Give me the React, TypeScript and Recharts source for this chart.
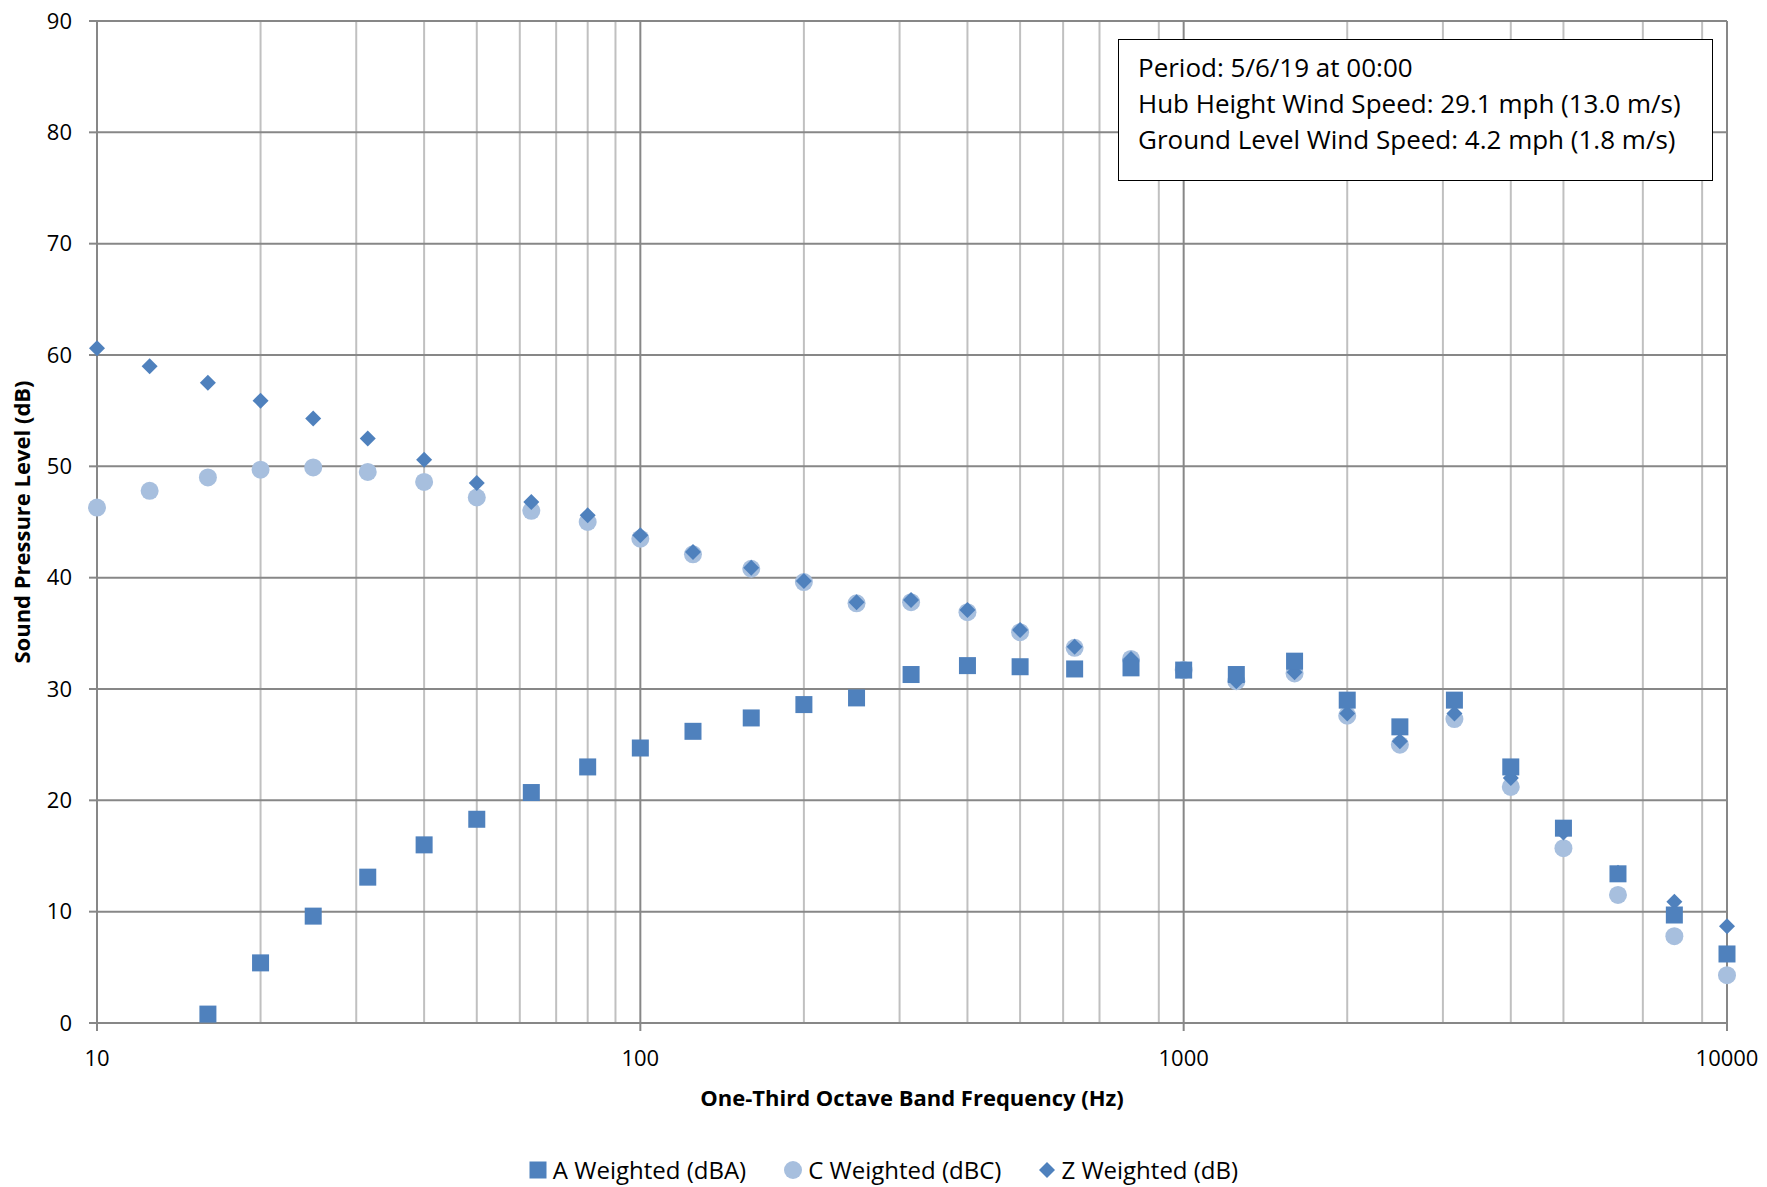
import React from 'react';
import { ScatterChart, Scatter, XAxis, YAxis, CartesianGrid, Legend, Label } from 'recharts';

const frequencies = [10, 12.5, 16, 20, 25, 31.5, 40, 50, 63, 80, 100, 125, 160, 200, 250, 315, 400, 500, 630, 800, 1000, 1250, 1600, 2000, 2500, 3150, 4000, 5000, 6300, 8000, 10000];
const aWeighted = [null, null, 0.8, 5.4, 9.6, 13.1, 16.0, 18.3, 20.7, 23.0, 24.7, 26.2, 27.4, 28.6, 29.2, 31.3, 32.1, 32.0, 31.8, 31.9, 31.7, 31.3, 32.5, 29.0, 26.6, 29.0, 23.0, 17.5, 13.4, 9.7, 6.2];
const cWeighted = [46.3, 47.8, 49.0, 49.7, 49.9, 49.5, 48.6, 47.2, 46.0, 45.0, 43.5, 42.1, 40.8, 39.6, 37.7, 37.8, 36.9, 35.1, 33.7, 32.7, 31.7, 30.7, 31.4, 27.6, 25.0, 27.3, 21.2, 15.7, 11.5, 7.8, 4.3];
const zWeighted = [60.6, 59.0, 57.5, 55.9, 54.3, 52.5, 50.6, 48.5, 46.8, 45.6, 43.8, 42.3, 40.9, 39.7, 37.8, 38.0, 37.1, 35.3, 33.8, 32.7, 31.7, 30.7, 31.5, 27.8, 25.3, 27.8, 22.0, 17.1, 13.5, 10.9, 8.7];

const xTicks = [10, 100, 1000, 10000];
const xMinorGrid = [20, 30, 40, 50, 60, 70, 80, 90, 200, 300, 400, 500, 600, 700, 800, 900, 2000, 3000, 4000, 5000, 6000, 7000, 8000, 9000];
const yTicks = [0, 10, 20, 30, 40, 50, 60, 70, 80, 90];

const seriesNames = ['A Weighted (dBA)', 'C Weighted (dBC)', 'Z Weighted (dB)'];
const infoLines = ['Period: 5/6/19 at 00:00', 'Hub Height Wind Speed: 29.1 mph (13.0 m/s)', 'Ground Level Wind Speed: 4.2 mph (1.8 m/s)'];
const xTitle = 'One-Third Octave Band Frequency (Hz)';
const yTitle = 'Sound Pressure Level (dB)';

const toPoints = (vals: (number | null)[]) =>
  frequencies.map((f, i) => ({ f, v: vals[i] })).filter((d) => d.v !== null);

const aData = toPoints(aWeighted);
const cData = toPoints(cWeighted);
const zData = toPoints(zWeighted);

const DARK = '#4F81BD';
const LIGHT = '#A7BFDE';
const FONT = '"Open Sans", "Noto Sans", sans-serif';

const SquareShape = (p: any) => (
  <rect x={p.cx - 8.5} y={p.cy - 8.5} width={17} height={17} fill={DARK} />
);
const CircleShape = (p: any) => <circle cx={p.cx} cy={p.cy} r={9} fill={LIGHT} />;
const DiamondShape = (p: any) => (
  <polygon
    points={`${p.cx},${p.cy - 8} ${p.cx + 8},${p.cy} ${p.cx},${p.cy + 8} ${p.cx - 8},${p.cy}`}
    fill={DARK}
  />
);

const legendMarkers = [
  <svg width={18} height={18} key="a"><rect x={0.5} y={0.5} width={17} height={17} fill={DARK} /></svg>,
  <svg width={18} height={18} key="c"><circle cx={9} cy={9} r={9} fill={LIGHT} /></svg>,
  <svg width={16} height={16} key="z"><polygon points="8,0 16,8 8,16 0,8" fill={DARK} /></svg>,
];

const LegendContent = () => (
  <div
    style={{
      display: 'flex',
      justifyContent: 'center',
      alignItems: 'center',
      gap: 38,
      height: 40,
      paddingTop: 5,
      boxSizing: 'border-box',
      fontFamily: FONT,
      fontSize: 24,
      color: '#000',
    }}
  >
    {seriesNames.map((n, i) => (
      <div key={n} style={{ display: 'flex', alignItems: 'center', gap: 6 }}>
        {legendMarkers[i]}
        <span>{n}</span>
      </div>
    ))}
  </div>
);

const XTitle = (props: any) => {
  const vb = props.viewBox;
  return (
    <text x={vb.x + vb.width / 2} y={vb.y + 83} textAnchor="middle" fontFamily={FONT} fontWeight={700} fontSize={22} fill="#000">
      {xTitle}
    </text>
  );
};

const YTitle = (props: any) => {
  const vb = props.viewBox;
  const x = vb.x + 30;
  const y = vb.y + vb.height / 2;
  return (
    <text x={x} y={y} transform={`rotate(-90, ${x}, ${y})`} textAnchor="middle" fontFamily={FONT} fontWeight={700} fontSize={22} fill="#000">
      {yTitle}
    </text>
  );
};

export default function App() {
  return (
    <div style={{ position: 'absolute', left: 0, top: 0, width: 1767, height: 1187, background: '#fff', fontFamily: FONT }}>
      <ScatterChart width={1767} height={1187} margin={{ top: 21, right: 40, bottom: 0, left: 0 }}>
        <CartesianGrid horizontal={false} verticalValues={xMinorGrid} stroke="#C0C0C0" strokeWidth={2} />
        <CartesianGrid horizontalValues={yTicks} verticalValues={xTicks} stroke="#878787" strokeWidth={2} />
        <XAxis
          dataKey="f"
          type="number"
          scale="log"
          domain={[10, 10000]}
          ticks={xTicks}
          height={124}
          tickSize={8}
          tickMargin={19}
          axisLine={{ stroke: '#878787', strokeWidth: 2 }}
          tickLine={{ stroke: '#878787', strokeWidth: 2 }}
          tick={{ fill: '#000', fontSize: 22, fontFamily: FONT }}
        >
          <Label content={XTitle} />
        </XAxis>
        <YAxis
          dataKey="v"
          type="number"
          domain={[0, 90]}
          ticks={yTicks}
          width={97}
          tickSize={8}
          tickMargin={17}
          axisLine={{ stroke: '#878787', strokeWidth: 2 }}
          tickLine={{ stroke: '#878787', strokeWidth: 2 }}
          tick={{ fill: '#000', fontSize: 22, fontFamily: FONT }}
        >
          <Label content={YTitle} />
        </YAxis>
        <Legend verticalAlign="bottom" height={40} content={LegendContent} wrapperStyle={{ left: 0, width: 1767 }} />
        <Scatter name={seriesNames[1]} data={cData} shape={CircleShape} isAnimationActive={false} />
        <Scatter name={seriesNames[2]} data={zData} shape={DiamondShape} isAnimationActive={false} />
        <Scatter name={seriesNames[0]} data={aData} shape={SquareShape} isAnimationActive={false} />
      </ScatterChart>
      <div
        style={{
          position: 'absolute',
          left: 1118,
          top: 39,
          width: 595,
          height: 142,
          boxSizing: 'border-box',
          border: '1.5px solid #000',
          background: '#fff',
          padding: '9px 0 0 19px',
          fontFamily: FONT,
          fontSize: 26,
          lineHeight: '36px',
          color: '#000',
          whiteSpace: 'nowrap',
        }}
      >
        {infoLines.map((l) => (
          <div key={l}>{l}</div>
        ))}
      </div>
    </div>
  );
}
